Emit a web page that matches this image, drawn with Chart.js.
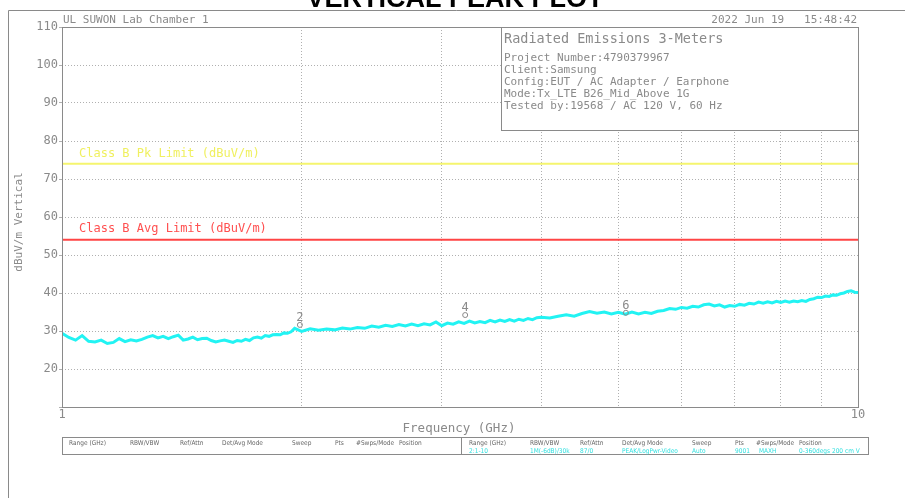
<!DOCTYPE html>
<html>
<head>
<meta charset="utf-8">
<script src="https://cdn.jsdelivr.net/npm/chart.js@4.4.0/dist/chart.umd.min.js"></script>
<style>
  html, body { margin: 0; padding: 0; background: #fff; }
  canvas { display: block; }
</style>
</head>
<body>
<canvas id="grafico" width="905" height="498"></canvas>
<script>
const frecuencias = [
  1.00, 1.02, 1.04, 1.06, 1.08, 1.10, 1.12, 1.14, 1.16, 1.18,
  1.20, 1.22, 1.24, 1.26, 1.28, 1.30, 1.32, 1.34, 1.36, 1.38,
  1.40, 1.42, 1.44, 1.46, 1.48, 1.50, 1.52, 1.54, 1.56, 1.58,
  1.60, 1.62, 1.64, 1.66, 1.68, 1.70, 1.72, 1.74, 1.76, 1.78,
  1.80, 1.82, 1.84, 1.86, 1.88, 1.90, 1.92, 1.94, 1.96, 1.98,
  2.00, 2.05, 2.10, 2.15, 2.20, 2.25, 2.30, 2.35, 2.40, 2.45,
  2.50, 2.55, 2.60, 2.65, 2.70, 2.75, 2.80, 2.85, 2.90, 2.95,
  3.00, 3.05, 3.10, 3.15, 3.20, 3.25, 3.30, 3.35, 3.40, 3.45,
  3.50, 3.55, 3.60, 3.65, 3.70, 3.75, 3.80, 3.85, 3.90, 3.95,
  4.0, 4.1, 4.2, 4.3, 4.4, 4.5, 4.6, 4.7, 4.8, 4.9,
  5.0, 5.1, 5.2, 5.3, 5.4, 5.5, 5.6, 5.7, 5.8, 5.9,
  6.0, 6.1, 6.2, 6.3, 6.4, 6.5, 6.6, 6.7, 6.8, 6.9,
  7.0, 7.1, 7.2, 7.3, 7.4, 7.5, 7.6, 7.7, 7.8, 7.9,
  8.0, 8.1, 8.2, 8.3, 8.4, 8.5, 8.6, 8.7, 8.8, 8.9,
  9.0, 9.1, 9.2, 9.3, 9.4, 9.5, 9.6, 9.7, 9.8, 9.9,
  10.0
];
const nivelesPico = [
  29.4, 28.3, 27.6, 28.8, 27.3, 27.1, 27.6, 26.7, 27.0, 28.0,
  27.2, 27.7, 27.4, 27.8, 28.4, 28.8, 28.2, 28.6, 28.0, 28.5,
  28.9, 27.6, 27.9, 28.4, 27.7, 28.0, 28.1, 27.5, 27.1, 27.4,
  27.6, 27.3, 27.0, 27.5, 27.3, 27.8, 27.5, 28.2, 28.4, 28.1,
  28.8, 28.6, 29.0, 29.1, 29.0, 29.5, 29.4, 29.8, 30.7, 30.3,
  29.9, 30.6, 30.2, 30.5, 30.3, 30.8, 30.5, 30.9, 30.7, 31.3,
  31.0, 31.5, 31.2, 31.7, 31.3, 31.8, 31.4, 31.9, 31.6, 32.4,
  31.4, 32.1, 31.8, 32.4, 32.0, 32.6, 32.1, 32.5, 32.2, 32.8,
  32.4, 32.9, 32.5, 33.0, 32.6, 33.1, 32.8, 33.3, 33.0, 33.5,
  33.6, 33.4, 33.9, 34.3, 33.9, 34.6, 35.1, 34.7, 35.0, 34.5,
  34.9, 34.4, 35.0, 34.5, 34.9, 34.6, 35.2, 35.4, 35.9, 35.7,
  36.2, 36.0, 36.5, 36.3, 36.9, 37.1, 36.6, 36.9, 36.3, 36.7,
  36.5, 37.0, 36.8, 37.3, 37.1, 37.6, 37.3, 37.7, 37.4, 37.8,
  37.5, 37.9, 37.6, 37.9, 37.7, 38.0, 37.8, 38.3, 38.5, 38.9,
  38.8, 39.2, 39.1, 39.5, 39.4, 39.8, 40.0, 40.4, 40.6, 40.2,
  40.1
];

// lineas limite
const limiteFrecuencias = [1, 10];
const limitePico = [74, 74];
const limitePromedio = [54, 54];

// marcadores
const marcadorNumeros = ['2', '4', '6'];
const marcadorFrecuencias = [1.99, 3.21, 5.11];
const marcadorNiveles = [31.6, 34.2, 34.8];

// ticks
const ticksX = [1, 2, 3, 4, 5, 6, 7, 8, 9, 10];
const etiquetasX = { 1: '1', 10: '10' };
const ticksY = [10, 20, 30, 40, 50, 60, 70, 80, 90, 100, 110];

const infoLineas = [
  'Project Number:4790379967',
  'Client:Samsung',
  'Config:EUT / AC Adapter / Earphone',
  'Mode:Tx_LTE B26_Mid_Above 1G',
  'Tested by:19568 / AC 120 V, 60 Hz'
];

const tablaColumnas = ['Range (GHz)', 'RBW/VBW', 'Ref/Attn', 'Det/Avg Mode', 'Sweep', 'Pts', '#Swps/Mode', 'Position'];
const tablaValores = ['2:1-10', '1M(-6dB)/30k', '87/0', 'PEAK/LogPwr-Video', 'Auto', '9001', 'MAXH', '0-360degs 200 cm V'];

const GRIS = '#8a8a8a';
const MONO = '"DejaVu Sans Mono", monospace';

function pares(xs, ys) {
    return xs.map((x, i) => ({ x: x, y: ys[i] }));
}

const decoracion = {
    id: 'decoracion',
    beforeDraw(chart) {
        const ctx = chart.ctx;
        ctx.save();
        ctx.fillStyle = '#fff';
        ctx.fillRect(0, 0, chart.width, chart.height);
        ctx.restore();
    },
    afterDatasetsDraw(chart) {
        const ctx = chart.ctx;
        const x = chart.scales.x;
        const y = chart.scales.y;
        const area = chart.chartArea;
        ctx.save();

        // titulo cortado arriba
        ctx.fillStyle = '#000';
        ctx.font = 'bold 27px "Liberation Sans", Arial, sans-serif';
        ctx.textAlign = 'center';
        ctx.textBaseline = 'alphabetic';
        ctx.fillText('VERTICAL PEAK PLOT', 455, 7);

        // marco exterior
        ctx.strokeStyle = GRIS;
        ctx.lineWidth = 1;
        ctx.beginPath();
        ctx.moveTo(905, 10.5);
        ctx.lineTo(8.5, 10.5);
        ctx.lineTo(8.5, 498);
        ctx.stroke();

        // marco del area
        ctx.strokeRect(area.left + 0.5, area.top + 0.5, area.right - area.left, area.bottom - area.top);

        ctx.fillStyle = GRIS;
        ctx.font = '11px ' + MONO;
        ctx.textAlign = 'left';
        ctx.fillText('UL SUWON Lab Chamber 1', 63, 23);
        ctx.textAlign = 'right';
        ctx.fillText('2022 Jun 19   15:48:42', 857, 23);

        // caja de informacion
        ctx.fillStyle = '#fff';
        ctx.fillRect(501, 27, area.right - 501, 103);
        ctx.strokeStyle = GRIS;
        ctx.strokeRect(501.5, 27.5, area.right - 501, 103);
        ctx.fillStyle = GRIS;
        ctx.textAlign = 'left';
        ctx.font = '13.5px ' + MONO;
        ctx.fillText('Radiated Emissions 3-Meters', 504, 43);
        ctx.font = '11px ' + MONO;
        infoLineas.forEach((t, i) => ctx.fillText(t, 504, 61 + i * 12));

        // etiquetas de limites
        ctx.font = '12px ' + MONO;
        ctx.fillStyle = '#f0f060';
        ctx.fillText('Class B Pk Limit (dBuV/m)', 79, y.getPixelForValue(74) - 7);
        ctx.fillStyle = '#ff5050';
        ctx.fillText('Class B Avg Limit (dBuV/m)', 79, y.getPixelForValue(54) - 8);

        // numeros de marcadores
        ctx.fillStyle = GRIS;
        ctx.textAlign = 'center';
        ctx.font = '12px ' + MONO;
        marcadorNumeros.forEach((n, i) => {
            ctx.fillText(n, x.getPixelForValue(marcadorFrecuencias[i]), y.getPixelForValue(marcadorNiveles[i]) - 4);
        });

        // titulos de ejes
        ctx.font = '12.5px ' + MONO;
        ctx.fillText('Frequency (GHz)', 459, 432);
        ctx.save();
        ctx.translate(22, 222);
        ctx.rotate(-Math.PI / 2);
        ctx.font = '11px ' + MONO;
        ctx.fillText('dBuV/m Vertical', 0, 0);
        ctx.restore();

        // tabla inferior
        ctx.strokeStyle = GRIS;
        ctx.strokeRect(62.5, 437.5, 806, 17);
        ctx.beginPath();
        ctx.moveTo(461.5, 437.5);
        ctx.lineTo(461.5, 454.5);
        ctx.stroke();
        const colX = [7, 68, 118, 160, 230, 273, 294, 337];
        ctx.textAlign = 'left';
        ctx.font = '6.5px "DejaVu Sans Condensed", sans-serif';
        ctx.fillStyle = '#666';
        colX.forEach((dx, i) => {
            ctx.fillText(tablaColumnas[i], 62 + dx, 445);
            ctx.fillText(tablaColumnas[i], 462 + dx, 445);
        });
        ctx.fillStyle = '#33e0e0';
        colX.forEach((dx, i) => {
            ctx.fillText(tablaValores[i], 462 + dx + (i === 6 ? 3 : 0), 453);
        });

        ctx.restore();
    }
};

new Chart(document.getElementById('grafico').getContext('2d'), {
    type: 'line',
    data: {
        datasets: [
            {
                label: 'Peak',
                data: pares(frecuencias, nivelesPico),
                borderColor: '#22f3f3',
                borderWidth: 3,
                pointRadius: 0,
                tension: 0,
                order: 2
            },
            {
                label: 'Class B Pk Limit',
                data: pares(limiteFrecuencias, limitePico),
                borderColor: '#f5f56e',
                borderWidth: 2,
                pointRadius: 0,
                order: 3
            },
            {
                label: 'Class B Avg Limit',
                data: pares(limiteFrecuencias, limitePromedio),
                borderColor: '#ff4545',
                borderWidth: 2,
                pointRadius: 0,
                order: 3
            },
            {
                label: 'Markers',
                data: pares(marcadorFrecuencias, marcadorNiveles),
                showLine: false,
                pointRadius: 2.5,
                pointBackgroundColor: 'rgba(0,0,0,0)',
                pointBorderColor: GRIS,
                pointBorderWidth: 1,
                order: 1
            }
        ]
    },
    options: {
        responsive: false,
        animation: false,
        events: [],
        layout: { padding: { left: 0, top: 27, right: 47, bottom: 0 } },
        plugins: {
            legend: { display: false },
            tooltip: { enabled: false },
            title: { display: false }
        },
        scales: {
            x: {
                type: 'logarithmic',
                min: 1,
                max: 10,
                afterBuildTicks: (scale) => { scale.ticks = ticksX.map(v => ({ value: v })); },
                afterFit: (scale) => { scale.height = 91; },
                grid: { color: '#b0b0b0', drawTicks: false },
                border: { display: false, dash: [1, 2] },
                ticks: {
                    autoSkip: false,
                    maxRotation: 0,
                    padding: 1,
                    color: GRIS,
                    font: { family: MONO, size: 12 },
                    callback: (v) => etiquetasX[v] || ''
                }
            },
            y: {
                min: 10,
                max: 110,
                afterBuildTicks: (scale) => { scale.ticks = ticksY.map(v => ({ value: v })); },
                afterFit: (scale) => { scale.width = 62; },
                grid: { color: '#b0b0b0', drawTicks: true, tickLength: 3 },
                border: { display: false, dash: [1, 2] },
                ticks: {
                    padding: 1,
                    color: GRIS,
                    font: { family: MONO, size: 12 },
                    callback: (v) => v === 10 ? '' : String(v)
                }
            }
        }
    },
    plugins: [decoracion]
});
</script>
</body>
</html>
